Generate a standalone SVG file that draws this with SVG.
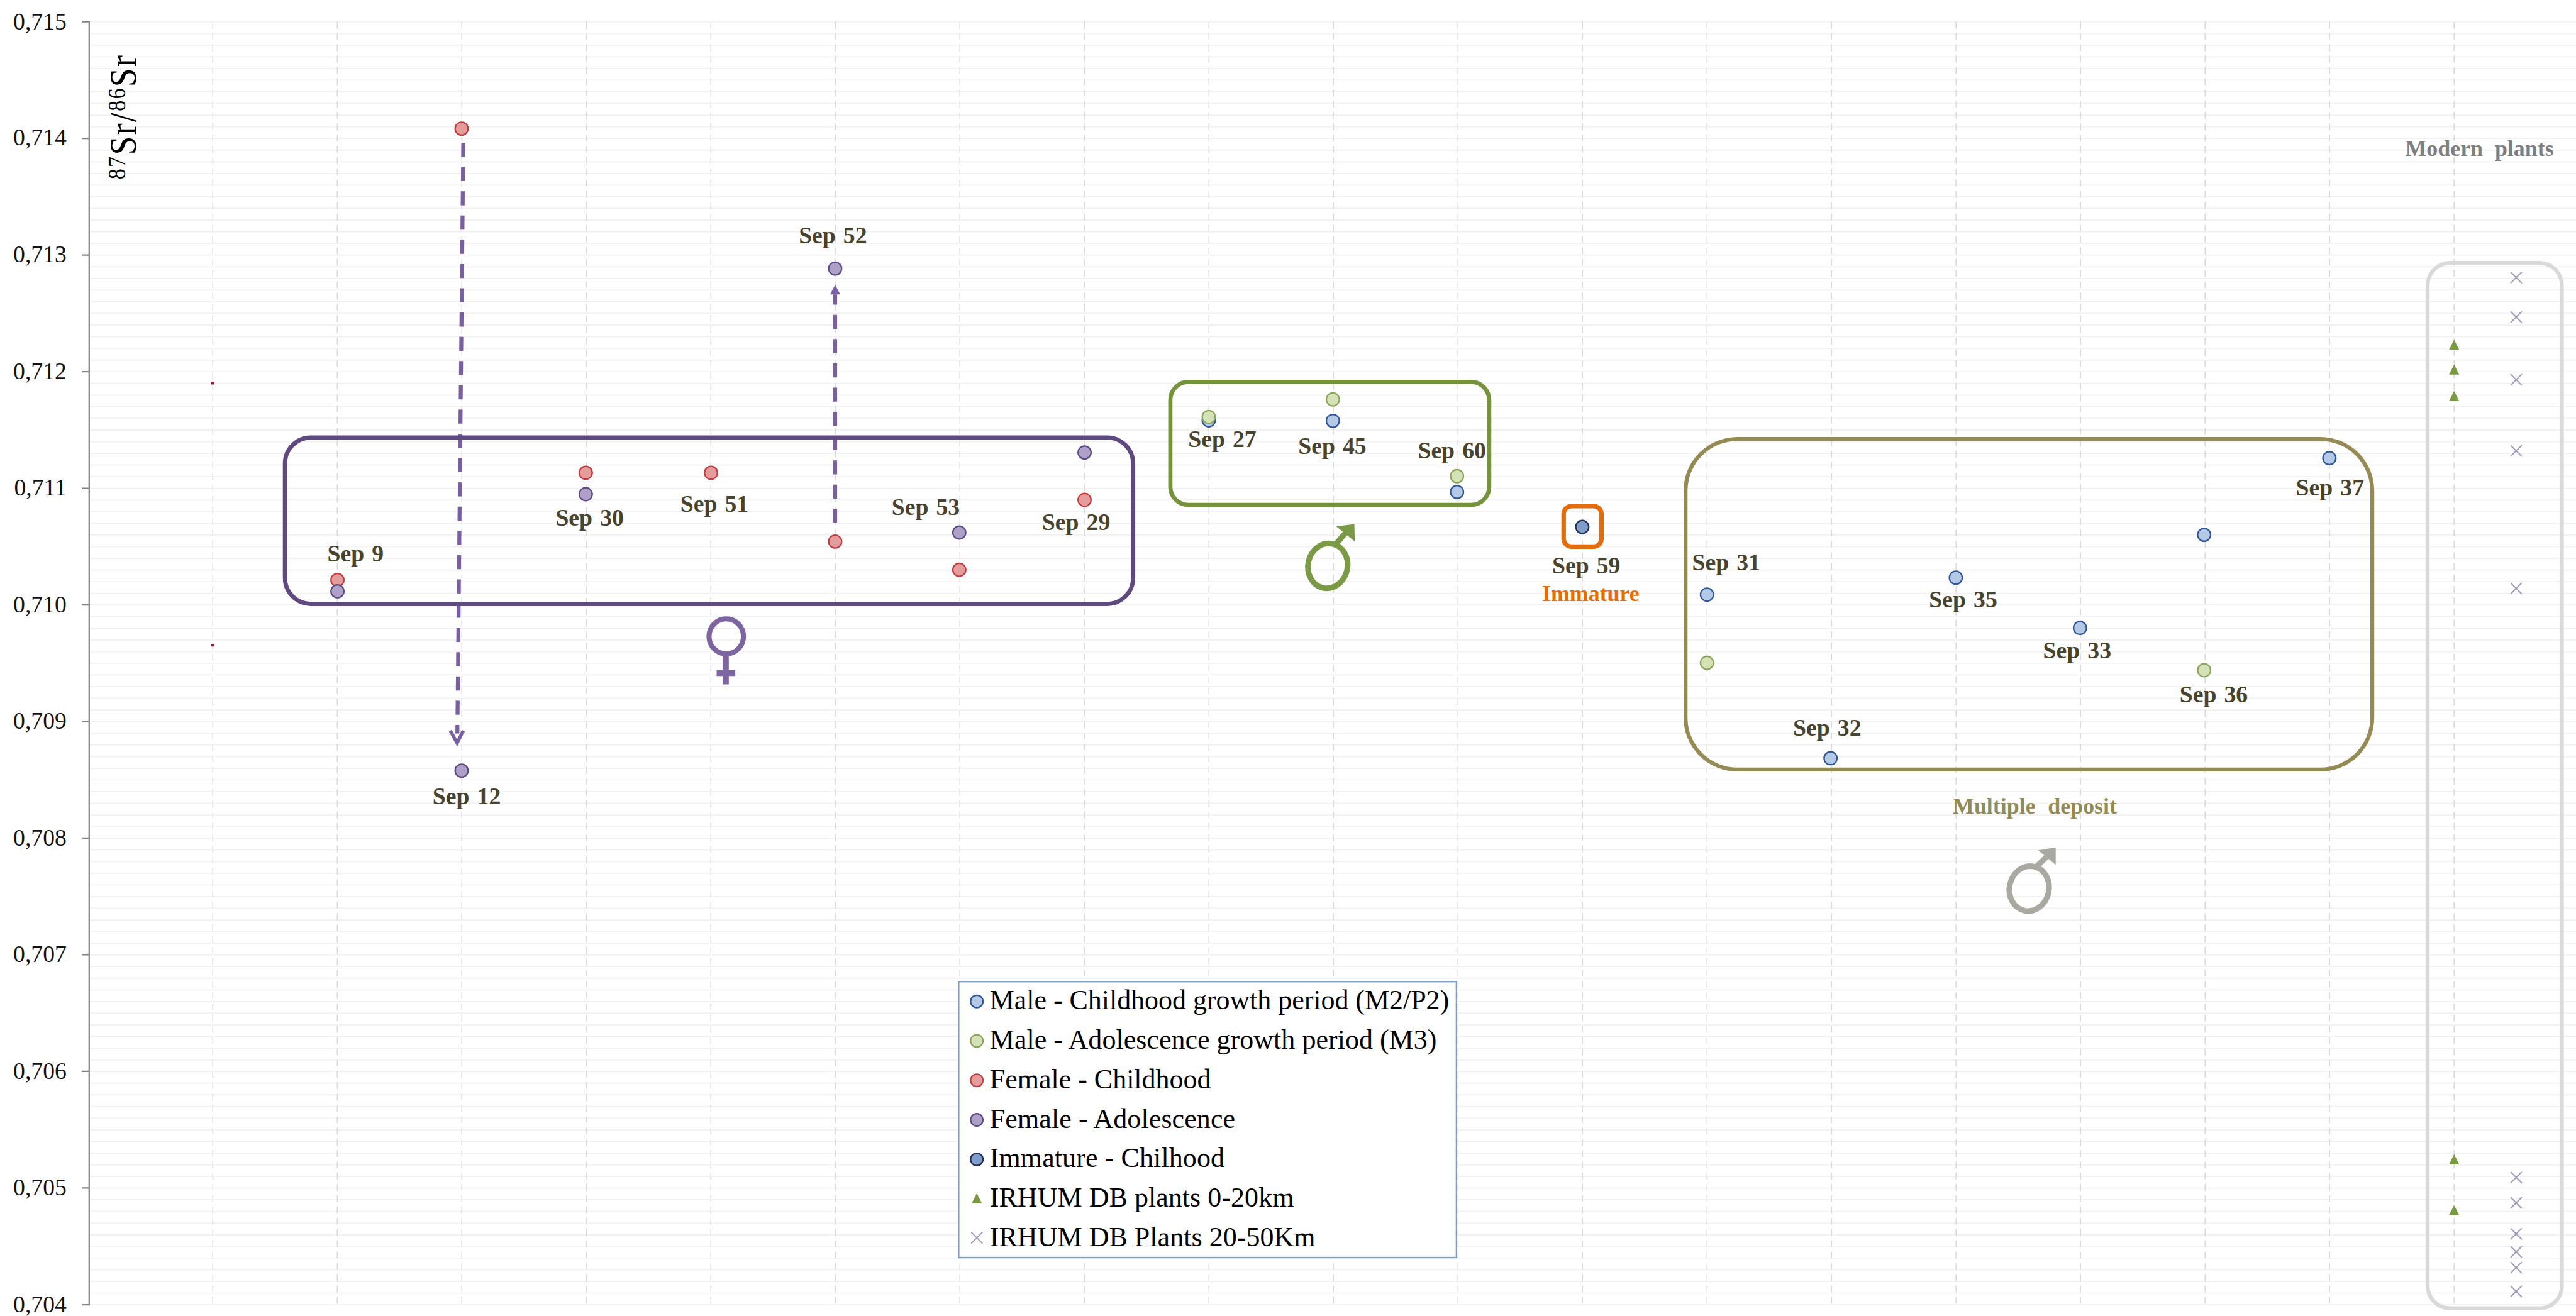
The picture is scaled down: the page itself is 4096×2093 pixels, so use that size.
<svg xmlns="http://www.w3.org/2000/svg" width="4096" height="2093" viewBox="0 0 4096 2093">
<style>
text{font-family:"Liberation Serif","Times New Roman",serif}
.tick{font-size:42px;fill:#111;text-anchor:end}
.lab{font-size:42px;font-weight:700;fill:#47432c;text-anchor:middle;word-spacing:3px}
.big{font-size:40px;font-weight:700;text-anchor:middle}
.leg{font-size:49px;fill:#000}
.mc{fill:#b3c9e6;stroke:#2f5597;stroke-width:2.5}
.ma{fill:#d5e2b8;stroke:#8aa55a;stroke-width:2.5}
.fc{fill:#e49c9c;stroke:#c23b3e;stroke-width:2.5}
.fa{fill:#afa0c8;stroke:#5b4a85;stroke-width:2.5}
.im{fill:#7f9ccb;stroke:#1f2f55;stroke-width:2.5}
.tri{fill:#7a9a42}
.x{fill:none;stroke:#a196bd;stroke-width:2.2}
.dash{fill:none;stroke:#7860a0;stroke-width:7;stroke-dasharray:25 18}
.box{fill:none}
</style>
<rect width="4096" height="2093" fill="#fff"/>
<g transform="scale(.89726)">
<g id="grid">
<path fill="none" stroke="#f1f1f1" stroke-width="2" d="M158 38.7h4407
m-4407 20.673h4407m-4407 20.673h4407m-4407 20.673h4407m-4407 20.673h4407m-4407 20.673h4407m-4407 20.673h4407m-4407 20.673h4407m-4407 20.673h4407m-4407 20.673h4407m-4407 20.673h4407
m-4407 20.673h4407m-4407 20.673h4407m-4407 20.673h4407m-4407 20.673h4407m-4407 20.673h4407m-4407 20.673h4407m-4407 20.673h4407m-4407 20.673h4407m-4407 20.673h4407m-4407 20.673h4407
m-4407 20.673h4407m-4407 20.673h4407m-4407 20.673h4407m-4407 20.673h4407m-4407 20.673h4407m-4407 20.673h4407m-4407 20.673h4407m-4407 20.673h4407m-4407 20.673h4407m-4407 20.673h4407
m-4407 20.673h4407m-4407 20.673h4407m-4407 20.673h4407m-4407 20.673h4407m-4407 20.673h4407m-4407 20.673h4407m-4407 20.673h4407m-4407 20.673h4407m-4407 20.673h4407m-4407 20.673h4407
m-4407 20.673h4407m-4407 20.673h4407m-4407 20.673h4407m-4407 20.673h4407m-4407 20.673h4407m-4407 20.673h4407m-4407 20.673h4407m-4407 20.673h4407m-4407 20.673h4407m-4407 20.673h4407
m-4407 20.673h4407m-4407 20.673h4407m-4407 20.673h4407m-4407 20.673h4407m-4407 20.673h4407m-4407 20.673h4407m-4407 20.673h4407m-4407 20.673h4407m-4407 20.673h4407m-4407 20.673h4407
m-4407 20.673h4407m-4407 20.673h4407m-4407 20.673h4407m-4407 20.673h4407m-4407 20.673h4407m-4407 20.673h4407m-4407 20.673h4407m-4407 20.673h4407m-4407 20.673h4407m-4407 20.673h4407
m-4407 20.673h4407m-4407 20.673h4407m-4407 20.673h4407m-4407 20.673h4407m-4407 20.673h4407m-4407 20.673h4407m-4407 20.673h4407m-4407 20.673h4407m-4407 20.673h4407m-4407 20.673h4407
m-4407 20.673h4407m-4407 20.673h4407m-4407 20.673h4407m-4407 20.673h4407m-4407 20.673h4407m-4407 20.673h4407m-4407 20.673h4407m-4407 20.673h4407m-4407 20.673h4407m-4407 20.673h4407
m-4407 20.673h4407m-4407 20.673h4407m-4407 20.673h4407m-4407 20.673h4407m-4407 20.673h4407m-4407 20.673h4407m-4407 20.673h4407m-4407 20.673h4407m-4407 20.673h4407m-4407 20.673h4407
m-4407 20.673h4407m-4407 20.673h4407m-4407 20.673h4407m-4407 20.673h4407m-4407 20.673h4407m-4407 20.673h4407m-4407 20.673h4407m-4407 20.673h4407m-4407 20.673h4407m-4407 20.673h4407"/>
<path fill="none" stroke="#dadada" stroke-width="1.700" stroke-dasharray="12 8" d="M377 38.7v2274
m220.67-2274v2274m220.67-2274v2274m220.67-2274v2274m220.67-2274v2274m220.67-2274v2274m220.67-2274v2274
m220.67-2274v2274m220.67-2274v2274m220.67-2274v2274m220.67-2274v2274m220.67-2274v2274m220.67-2274v2274
m220.67-2274v2274m220.67-2274v2274m220.67-2274v2274m220.67-2274v2274m220.67-2274v2274m220.67-2274v2274"/>
<rect x="374.500" y="676.500" width="5" height="5" fill="#8b1a3a"/>
<rect x="374.500" y="1142" width="5" height="4" fill="#8b1a3a"/>
</g>
<g id="axis">
<path fill="none" stroke="#808080" stroke-width="2.500" d="M145 38.7H158V2312.7H145M145 245.400H158M145 452.100H158M145 658.800H158M145 865.500H158M145 1072.200H158M145 1279H158M145 1485.600H158M145 1692.300H158M145 1899H158M145 2105.700H158"/>
<text class="tick" x="118" y="52">0,715</text>
<text class="tick" x="118" y="258">0,714</text>
<text class="tick" x="118" y="465">0,713</text>
<text class="tick" x="118" y="672">0,712</text>
<text class="tick" x="118" y="878">0,711</text>
<text class="tick" x="118" y="1085">0,710</text>
<text class="tick" x="118" y="1292">0,709</text>
<text class="tick" x="118" y="1499">0,708</text>
<text class="tick" x="118" y="1705">0,707</text>
<text class="tick" x="118" y="1912">0,706</text>
<text class="tick" x="118" y="2119">0,705</text>
<text class="tick" x="118" y="2326">0,704</text>
<text transform="translate(241 318) rotate(-90) scale(1 1.150)" fill="#000" font-size="60" textLength="220" lengthAdjust="spacing"><tspan font-size="38" dy="-17">87</tspan><tspan dy="17">Sr/</tspan><tspan font-size="38" dy="-17">86</tspan><tspan dy="17">Sr</tspan></text>
</g>
<g id="connectors">
<path class="dash" d="M821 253L810.500 1300"/>
<path fill="none" stroke="#7860a0" stroke-width="6" d="M798 1295L810 1317L821 1295"/>
<path class="dash" d="M1480 927V522"/>
<path fill="#7860a0" d="M1480 505L1489 522H1471Z"/>
</g>
<g id="female-group">
<rect class="box" x="505" y="775.500" width="1503" height="295" rx="46" stroke="#5f4a80" stroke-width="7.500"/>
<g id="female-symbol" fill="none" stroke="#7d65a0">
<ellipse cx="1287" cy="1128" rx="30.500" ry="31" stroke-width="9"/>
<path stroke-width="11" d="M1286 1160V1213M1270 1193H1303"/>
</g>
<g id="sep-9"><circle class="fc" cx="598" cy="1028" r="11.500"/><circle class="fa" cx="598" cy="1048" r="11.500"/><text class="lab" x="630" y="995">Sep 9</text></g>
<g id="sep-12"><circle class="fc" cx="818" cy="228" r="11.500"/><circle class="fa" cx="818" cy="1366" r="11.500"/><text class="lab" x="827" y="1425">Sep 12</text></g>
<g id="sep-30"><circle class="fc" cx="1038" cy="838" r="11.500"/><circle class="fa" cx="1038" cy="876" r="11.500"/><text class="lab" x="1045" y="932">Sep 30</text></g>
<g id="sep-51"><circle class="fc" cx="1260" cy="838" r="11.500"/><text class="lab" x="1266" y="907">Sep 51</text></g>
<g id="sep-52"><circle class="fc" cx="1480" cy="960" r="11.500"/><circle class="fa" cx="1480" cy="476" r="11.500"/><text class="lab" x="1476" y="431">Sep 52</text></g>
<g id="sep-53"><circle class="fa" cx="1700" cy="944" r="11.500"/><circle class="fc" cx="1700" cy="1010" r="11.500"/><text class="lab" x="1640.500" y="913">Sep 53</text></g>
<g id="sep-29"><circle class="fa" cx="1922" cy="802" r="11.500"/><circle class="fc" cx="1922" cy="886" r="11.500"/><text class="lab" x="1907" y="939">Sep 29</text></g>
</g>
<g id="male-group">
<rect class="box" x="2074" y="677" width="565" height="218" rx="32" stroke="#76933c" stroke-width="7.500"/>
<g id="male-symbol" fill="none" stroke="#7a9a45">
<ellipse cx="2353" cy="1003" rx="35" ry="40" stroke-width="10" transform="rotate(12 2353 1003)"/>
<path stroke-width="10" d="M2368 964L2390 938"/>
<path stroke="none" fill="#7a9a45" d="M2400 929L2368 933L2401 960Z"/>
</g>
<g id="sep-27"><circle class="mc" cx="2142" cy="745" r="11.500"/><circle class="ma" cx="2142" cy="739" r="11.500"/><text class="lab" x="2166" y="792">Sep 27</text></g>
<g id="sep-45"><circle class="ma" cx="2362" cy="708" r="11.500"/><circle class="mc" cx="2362" cy="746" r="11.500"/><text class="lab" x="2361" y="805">Sep 45</text></g>
<g id="sep-60"><circle class="ma" cx="2582" cy="844" r="11.500"/><circle class="mc" cx="2582" cy="872" r="11.500"/><text class="lab" x="2573" y="813">Sep 60</text></g>
</g>
<g id="immature-group">
<rect class="box" x="2771" y="897" width="67" height="72" rx="14" stroke="#e46c0a" stroke-width="8"/>
<circle class="im" cx="2804" cy="934" r="11.500"/>
<text class="lab" x="2811" y="1017">Sep 59</text>
<text class="big" x="2819" y="1065" fill="#e46c0a">Immature</text>
</g>
<g id="multiple-group">
<rect class="box" x="2987" y="778" width="1217" height="586" rx="92" stroke="#948a54" stroke-width="7"/>
<text class="big" x="3606" y="1442" fill="#948a54" word-spacing="12">Multiple deposit</text>
<g id="multiple-symbol" fill="none" stroke="#a9a9a1">
<ellipse cx="3596" cy="1575" rx="35" ry="40" stroke-width="10" transform="rotate(12 3596 1575)"/>
<path stroke-width="10" d="M3608 1537L3634 1512"/>
<path stroke="none" fill="#a9a9a1" d="M3643 1502L3612 1507L3643 1533Z"/>
</g>
<g id="sep-31"><circle class="mc" cx="3025" cy="1054" r="11.500"/><circle class="ma" cx="3025" cy="1175" r="11.500"/><text class="lab" x="3059" y="1011">Sep 31</text></g>
<g id="sep-32"><circle class="mc" cx="3244" cy="1344" r="11.500"/><text class="lab" x="3238" y="1304">Sep 32</text></g>
<g id="sep-35"><circle class="mc" cx="3466" cy="1024" r="11.500"/><text class="lab" x="3479" y="1077">Sep 35</text></g>
<g id="sep-33"><circle class="mc" cx="3686" cy="1113" r="11.500"/><text class="lab" x="3681" y="1167">Sep 33</text></g>
<g id="sep-36"><circle class="mc" cx="3906" cy="948" r="11.500"/><circle class="ma" cx="3906" cy="1188" r="11.500"/><text class="lab" x="3923" y="1245">Sep 36</text></g>
<g id="sep-37"><circle class="mc" cx="4128" cy="812" r="11.500"/><text class="lab" x="4129" y="878">Sep 37</text></g>
</g>
<g id="plants-group">
<rect class="box" x="4302" y="466" width="238" height="1853" rx="40" stroke="#d9d9d9" stroke-width="7"/>
<text class="big" x="4394" y="276" fill="#7f7f7f" word-spacing="11">Modern plants</text>
<path class="tri" d="M4349 602L4358 620H4340ZM4349 646L4358 664H4340ZM4349 693L4358 711H4340ZM4349 2046L4358 2064H4340ZM4349 2136L4358 2154H4340Z"/>
<path class="x" d="M4449 482l20 20m0-20l-20 20M4449 552l20 20m0-20l-20 20M4449 663l20 20m0-20l-20 20M4449 789l20 20m0-20l-20 20M4449 1033l20 20m0-20l-20 20M4449 2077l20 20m0-20l-20 20M4449 2122l20 20m0-20l-20 20M4449 2177l20 20m0-20l-20 20M4449 2209l20 20m0-20l-20 20M4449 2237l20 20m0-20l-20 20M4449 2279l20 20m0-20l-20 20"/>
</g>
<g id="legend">
<rect x="1699" y="1740" width="882" height="489" fill="#fff" stroke="#7f9dbd" stroke-width="2.500"/>
<circle class="mc" cx="1731" cy="1775" r="11"/><text class="leg" x="1754" y="1789" textLength="814">Male - Childhood growth period (M2/P2)</text>
<circle class="ma" cx="1731" cy="1845" r="11"/><text class="leg" x="1754" y="1859" textLength="792">Male - Adolescence growth period (M3)</text>
<circle class="fc" cx="1731" cy="1915" r="11"/><text class="leg" x="1754" y="1929" textLength="392">Female - Childhood</text>
<circle class="fa" cx="1731" cy="1985" r="11"/><text class="leg" x="1754" y="1999" textLength="435">Female - Adolescence</text>
<circle class="im" cx="1731" cy="2055" r="11"/><text class="leg" x="1754" y="2069" textLength="416">Immature - Chilhood</text>
<path class="tri" d="M1731 2115L1740 2133H1722Z"/><text class="leg" x="1754" y="2139" textLength="539">IRHUM DB plants 0-20km</text>
<path class="x" d="M1721 2184l20 20m0-20l-20 20"/><text class="leg" x="1754" y="2209" textLength="577">IRHUM DB Plants 20-50Km</text>
</g>
</g>
</svg>
